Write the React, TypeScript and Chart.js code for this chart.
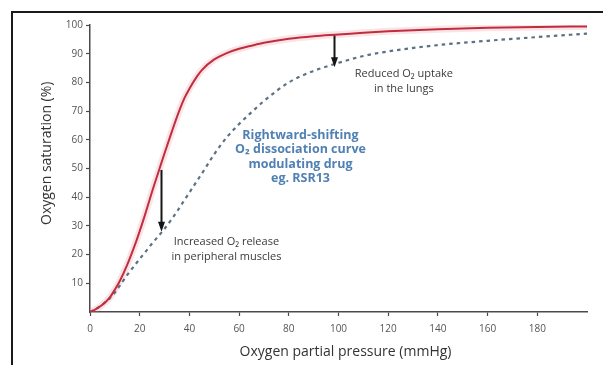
import React, { useEffect, useRef } from "react";
import { Chart, registerables } from "chart.js";

Chart.register(...registerables);

// Oxygen partial pressure (mmHg)
const pressure = [0, 2, 5, 8, 10, 12, 15, 18, 20, 22, 25, 28, 30, 33, 35, 38, 40, 43, 45, 50, 55, 60, 65, 70, 80, 90, 100, 110, 120, 140, 160, 180, 200];
// Normal haemoglobin saturation (%)
const normalSat = [0, 0.8, 2.5, 5.1, 7.8, 10.8, 16.5, 23.2, 28.2, 33.5, 42, 50, 55.3, 63, 68, 74.5, 77.8, 82, 84.3, 88, 90.2, 91.7, 92.8, 93.8, 95.2, 96.1, 96.7, 97.3, 97.8, 98.5, 99, 99.3, 99.5];
// Right-shifted curve saturation (%)
const shiftedSat = [0, 0.8, 2.6, 4.8, 6.8, 9.2, 12.9, 16.3, 18.5, 20.6, 23.9, 26.9, 29, 32.5, 35, 39, 41.6, 45.6, 48.2, 55, 60.8, 65.5, 69.6, 73.5, 80, 84, 86.8, 89.2, 90.8, 93, 94.5, 95.8, 97];

const xTicks = [0, 20, 40, 60, 80, 100, 120, 140, 160, 180];
const yTicks = [10, 20, 30, 40, 50, 60, 70, 80, 90, 100];

// Arrows: x position, start and end saturation
const arrowX = [28.5, 98];
const arrowFrom = [49.5, 96.3];
const arrowTo = [28, 85.3];

const xTitle = "Oxygen partial pressure (mmHg)";
const yTitle = "Oxygen saturation (%)";
const noteLungs = ["Reduced O\u2082 uptake", "in the lungs"];
const noteMuscles = ["Increased O\u2082 release", "in peripheral muscles"];
const noteDrug = ["Rightward-shifting", "O\u2082 dissociation curve", "modulating drug", "eg. RSR13"];

const overlay = {
  id: "overlay",
  afterDatasetsDraw(chart: any) {
    const { ctx, chartArea, scales } = chart;
    const xs = scales.x;
    const ys = scales.y;
    ctx.save();
    // arrows
    arrowX.forEach((ax, i) => {
      const px = Math.round(xs.getPixelForValue(ax)) + 0.5;
      const p0 = ys.getPixelForValue(arrowFrom[i]);
      const p1 = ys.getPixelForValue(arrowTo[i]);
      ctx.strokeStyle = "#151515";
      ctx.lineWidth = 2;
      ctx.beginPath();
      ctx.moveTo(px, p0);
      ctx.lineTo(px, p1 - 8);
      ctx.stroke();
      ctx.fillStyle = "#151515";
      ctx.beginPath();
      ctx.moveTo(px - 3.5, p1 - 10);
      ctx.lineTo(px + 3.5, p1 - 10);
      ctx.lineTo(px, p1);
      ctx.closePath();
      ctx.fill();
    });

    const drawLines = (lines: string[], vx: number, vy: number, lh: number, font: string, color: string) => {
      ctx.font = font;
      ctx.fillStyle = color;
      ctx.textAlign = "center";
      ctx.textBaseline = "middle";
      const cx = xs.getPixelForValue(vx);
      const cy = ys.getPixelForValue(vy);
      lines.forEach((t, i) => ctx.fillText(t, cx, cy + i * lh));
    };
    drawLines(noteLungs, 126.3, 82.9, 15, "11px 'Open Sans'", "#3a3a3a");
    drawLines(noteMuscles, 54.9, 24.4, 15, "11px 'Open Sans'", "#3a3a3a");
    drawLines(noteDrug, 84.7, 61.6, 14.5, "bold 12.5px 'Open Sans'", "#5080b4");

    // axis titles
    ctx.font = "14px 'Open Sans'";
    ctx.fillStyle = "#333";
    ctx.textAlign = "center";
    ctx.textBaseline = "middle";
    ctx.fillText(xTitle, (chartArea.left + chartArea.right) / 2 + 7, chartArea.bottom + 40);
    ctx.save();
    ctx.translate(chartArea.left - 43, ys.getPixelForValue(55.3));
    ctx.rotate(-Math.PI / 2);
    ctx.fillText(yTitle, 0, 0);
    ctx.restore();
    ctx.restore();
  },
};

export default function App() {
  const ref = useRef<HTMLCanvasElement | null>(null);
  useEffect(() => {
    if (!ref.current) return;
    const chart = new Chart(ref.current, {
      type: "line",
      data: {
        datasets: [
          {
            label: "Normal",
            data: pressure.map((p, i) => ({ x: p, y: normalSat[i] })),
            borderColor: "#c02e3e",
            borderWidth: 2,
            pointRadius: 0,
            cubicInterpolationMode: "monotone",
            order: 0,
          },
          {
            label: "Normal halo",
            data: pressure.map((p, i) => ({ x: p, y: normalSat[i] })),
            borderColor: "rgba(238, 130, 145, 0.22)",
            borderWidth: 7,
            pointRadius: 0,
            cubicInterpolationMode: "monotone",
            order: 2,
          },
          {
            label: "Shifted",
            data: pressure.map((p, i) => ({ x: p, y: shiftedSat[i] })),
            borderColor: "#5b7184",
            borderWidth: 2.2,
            borderDash: [3.5, 4],
            pointRadius: 0,
            cubicInterpolationMode: "monotone",
            order: 1,
          },
        ],
      },
      options: {
        animation: false,
        responsive: false,
        maintainAspectRatio: false,
        layout: { padding: { left: 0, top: 25, right: 16, bottom: 0 } },
        plugins: { legend: { display: false }, tooltip: { enabled: false } },
        scales: {
          x: {
            type: "linear",
            min: 0,
            max: 200,
            afterBuildTicks: (s: any) => {
              s.ticks = xTicks.map((v) => ({ value: v }));
            },
            afterFit: (s: any) => {
              s.height = 53;
            },
            border: { color: "#4a4a4a", width: 1.5 },
            grid: { drawOnChartArea: false, drawTicks: true, tickLength: 4, tickColor: "#4a4a4a", tickWidth: 1.2 },
            ticks: { color: "#555", font: { family: "'Open Sans'", size: 10 }, padding: 7, maxRotation: 0 },
          },
          y: {
            type: "linear",
            min: 0,
            max: 100,
            afterBuildTicks: (s: any) => {
              s.ticks = yTicks.map((v) => ({ value: v }));
            },
            afterFit: (s: any) => {
              s.width = 90;
            },
            border: { color: "#4a4a4a", width: 1.5 },
            grid: { drawOnChartArea: false, drawTicks: true, tickLength: 4, tickColor: "#4a4a4a", tickWidth: 1.2 },
            ticks: { color: "#555", font: { family: "'Open Sans'", size: 10 }, padding: 3 },
          },
        },
      },
      plugins: [overlay],
    } as any);
    return () => chart.destroy();
  }, []);

  return (
    <div style={{ position: "fixed", left: 0, top: 0, width: 603, height: 365, background: "#fff" }}>
      <div
        style={{
          position: "absolute",
          left: 11,
          top: 11,
          width: 592,
          height: 354,
          borderTop: "2px solid #1a1a1a",
          borderLeft: "2px solid #1a1a1a",
          boxSizing: "border-box",
        }}
      />
      <canvas ref={ref} width={603} height={365} style={{ position: "absolute", left: 0, top: 0, width: 603, height: 365 }} />
    </div>
  );
}
